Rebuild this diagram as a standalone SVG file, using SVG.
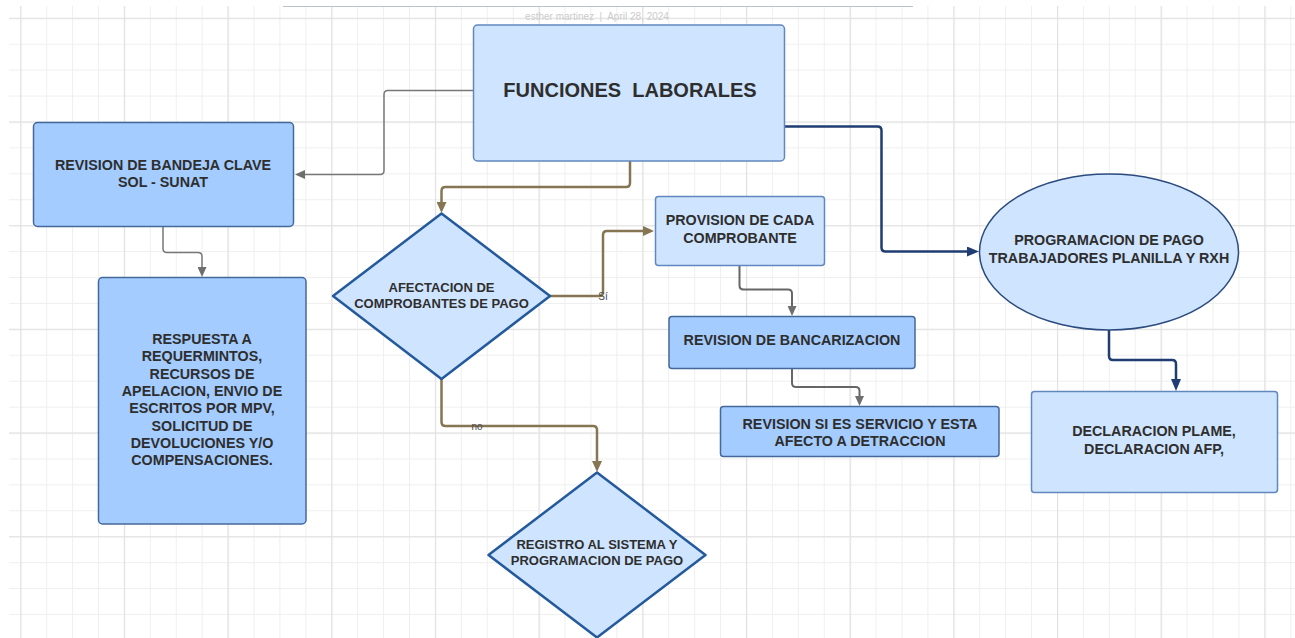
<svg xmlns="http://www.w3.org/2000/svg" width="1295" height="638" viewBox="0 0 1295 638">
  <defs>
    <pattern id="gridMinor" patternUnits="userSpaceOnUse" x="20.2" y="17.8" width="25.92" height="25.92">
      <rect x="0" y="0" width="1" height="25.92" fill="#efefef"/>
      <rect x="0" y="0" width="25.92" height="1" fill="#efefef"/>
    </pattern>
    <pattern id="gridMajor" patternUnits="userSpaceOnUse" x="20.2" y="17.8" width="103.68" height="103.68">
      <rect x="0" y="0" width="1.2" height="103.68" fill="#e2e2e2"/>
      <rect x="0" y="0" width="103.68" height="1.2" fill="#e2e2e2"/>
    </pattern>
    <marker id="arrGray" markerUnits="userSpaceOnUse" markerWidth="10" markerHeight="9" refX="2" refY="4.5" orient="auto">
      <path d="M0,0 L10,4.5 L0,9 z" fill="#6e6e6e"/>
    </marker>
    <marker id="arrBrown" markerUnits="userSpaceOnUse" markerWidth="11" markerHeight="10" refX="2" refY="5" orient="auto">
      <path d="M0,0 L11,5 L0,10 z" fill="#857552"/>
    </marker>
    <marker id="arrNavy" markerUnits="userSpaceOnUse" markerWidth="12" markerHeight="10" refX="2" refY="5" orient="auto">
      <path d="M0,0 L12,5 L0,10 z" fill="#1f3d72"/>
    </marker>
    <style>
      .lbl { font-family: "Liberation Sans", Arial, sans-serif; font-weight: bold; font-size: 14.3px; fill: #2e2e2e; text-anchor: middle; }
      .lbl.sm { font-size: 13px; }
      .light { fill: #cfe4ff; stroke: #6088bf; stroke-width: 1.5; }
      .dark { fill: #a4ccff; stroke: #45689b; stroke-width: 1.5; }
      .dia { fill: #cfe4ff; stroke: #245a9b; stroke-width: 2.5; stroke-linejoin: round; }
      .cGray { fill: none; stroke: #777777; stroke-width: 1.5; }
      .cGray2 { fill: none; stroke: #666666; stroke-width: 2; }
      .cBrown { fill: none; stroke: #857552; stroke-width: 2.5; }
      .cNavy { fill: none; stroke: #1f3d72; stroke-width: 2.5; }
      .tag { font-family: "Liberation Sans", Arial, sans-serif; font-size: 10px; fill: #4a4a4a; text-anchor: middle; }
    </style>
  </defs>

  <!-- canvas and grid -->
  <rect x="0" y="0" width="1295" height="638" fill="#ffffff"/>
  <rect x="9" y="6" width="1286" height="632" fill="url(#gridMinor)"/>
  <rect x="9" y="6" width="1286" height="632" fill="url(#gridMajor)"/>

  <!-- page header -->
  <line x1="283" y1="6.5" x2="913" y2="6.5" stroke="#b9c1ca" stroke-width="1"/>
  <text x="597" y="20" font-family="'Liberation Sans', Arial, sans-serif" font-size="10" fill="#cccccc" text-anchor="middle" xml:space="preserve">esther martinez  |  April 28, 2024</text>

  <!-- connectors -->
  <g id="connectors">
    <path class="cGray" d="M473 90.5 H388 Q384 90.5 384 94.5 V170.5 Q384 174.5 380 174.5 H303" marker-end="url(#arrGray)"/>
    <path class="cGray" d="M163 226 V248.5 Q163 252.5 167 252.5 H198 Q202 252.5 202 256.5 V269" marker-end="url(#arrGray)"/>
    <path class="cBrown" d="M630 161 V183 Q630 187 626 187 H445.5 Q441.5 187 441.5 191 V204" marker-end="url(#arrBrown)"/>
    <path class="cBrown" d="M550 296 H599 Q603 296 603 292 V235 Q603 231 607 231 H645" marker-end="url(#arrBrown)"/>
    <path class="cBrown" d="M441.5 379 V422 Q441.5 426 445.5 426 H593 Q597 426 597 430 V463" marker-end="url(#arrBrown)"/>
    <path class="cGray2" d="M739.5 265 V285.5 Q739.5 289.5 743.5 289.5 H788 Q792 289.5 792 293.5 V308" marker-end="url(#arrGray)"/>
    <path class="cGray2" d="M792 368.5 V383 Q792 387 796 387 H855.5 Q859.5 387 859.5 391 V398" marker-end="url(#arrGray)"/>
    <path class="cNavy" d="M785 126.5 H877.5 Q881.5 126.5 881.5 130.5 V247.5 Q881.5 251.5 885.5 251.5 H969" marker-end="url(#arrNavy)"/>
    <path class="cNavy" d="M1109 330 V356 Q1109 360 1113 360 H1172 Q1176 360 1176 364 V381" marker-end="url(#arrNavy)"/>
    <text class="tag" x="603" y="299.5">Sí</text>
    <text class="tag" x="477" y="429.5">no</text>
  </g>

  <!-- nodes -->
  <g id="funciones">
    <rect class="light" x="473.5" y="25" width="311" height="136" rx="4"/>
    <text class="lbl" x="630" y="97" style="font-size:20px" xml:space="preserve">FUNCIONES  LABORALES</text>
  </g>

  <g id="bandeja">
    <rect class="dark" x="33.5" y="122.5" width="260" height="104" rx="4"/>
    <text class="lbl" x="163" y="170">REVISION DE BANDEJA CLAVE</text>
    <text class="lbl" x="163" y="187">SOL - SUNAT</text>
  </g>

  <g id="respuesta">
    <rect class="dark" x="98.5" y="277.5" width="207.5" height="246.5" rx="4"/>
    <text class="lbl" x="202" y="344">RESPUESTA A</text>
    <text class="lbl" x="202" y="361.3">REQUERMINTOS,</text>
    <text class="lbl" x="202" y="378.6">RECURSOS DE</text>
    <text class="lbl" x="202" y="395.9">APELACION, ENVIO DE</text>
    <text class="lbl" x="202" y="413.2">ESCRITOS POR MPV,</text>
    <text class="lbl" x="202" y="430.5">SOLICITUD DE</text>
    <text class="lbl" x="202" y="447.8">DEVOLUCIONES Y/O</text>
    <text class="lbl" x="202" y="465.1">COMPENSACIONES.</text>
  </g>

  <g id="afectacion">
    <polygon class="dia" points="441.5,213.5 550,296 441.5,379 333,296"/>
    <text class="lbl sm" x="441.5" y="292">AFECTACION DE</text>
    <text class="lbl sm" x="441.5" y="308">COMPROBANTES DE PAGO</text>
  </g>

  <g id="registro">
    <polygon class="dia" points="597,472.5 705.5,555 597,637.5 488.5,555"/>
    <text class="lbl sm" x="597" y="549">REGISTRO AL SISTEMA Y</text>
    <text class="lbl sm" x="597" y="564.5">PROGRAMACION DE PAGO</text>
  </g>

  <g id="provision">
    <rect class="light" x="655.5" y="196.5" width="169" height="69" rx="3"/>
    <text class="lbl" x="740" y="225">PROVISION DE CADA</text>
    <text class="lbl" x="740" y="243">COMPROBANTE</text>
  </g>

  <g id="bancarizacion">
    <rect class="dark" x="669" y="316.5" width="246" height="52" rx="3"/>
    <text class="lbl" x="792" y="345">REVISION DE BANCARIZACION</text>
  </g>

  <g id="detraccion">
    <rect class="dark" x="720.5" y="406.5" width="278.5" height="50" rx="3"/>
    <text class="lbl" x="860" y="428.5">REVISION SI ES SERVICIO Y ESTA</text>
    <text class="lbl" x="860" y="445.5">AFECTO A DETRACCION</text>
  </g>

  <g id="programacion">
    <ellipse cx="1109" cy="252" rx="129.5" ry="78" fill="#cfe4ff" stroke="#2b4b7e" stroke-width="1.5"/>
    <text class="lbl" x="1109" y="245">PROGRAMACION DE PAGO</text>
    <text class="lbl" x="1109" y="262.5">TRABAJADORES PLANILLA Y RXH</text>
  </g>

  <g id="declaracion">
    <rect class="light" x="1031.5" y="391.5" width="246" height="101" rx="3"/>
    <text class="lbl" x="1154" y="436">DECLARACION PLAME,</text>
    <text class="lbl" x="1154" y="453.5">DECLARACION AFP,</text>
  </g>
</svg>
